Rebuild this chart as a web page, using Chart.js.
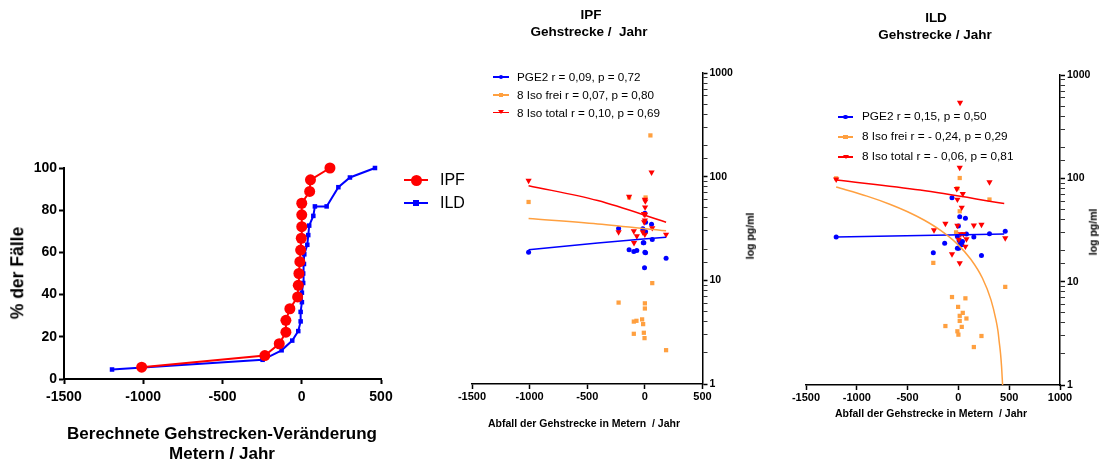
<!DOCTYPE html>
<html lang="de">
<head>
<meta charset="utf-8">
<title>Gehstrecke / Jahr</title>
<script src="https://cdn.jsdelivr.net/npm/chart.js@4.4.1/dist/chart.umd.min.js"></script>
<style>
  body { margin: 0; background: #fff; font-family: 'Liberation Sans', Arial, Helvetica, sans-serif; }
  #wrap { position: relative; width: 1106px; height: 463px; overflow: hidden; }
  canvas { position: absolute; left: 0; top: 0; }
  .lbl { position: absolute; white-space: pre; color: #000; line-height: 1; }
</style>
</head>
<body>
<div id="wrap">
  <canvas id="cumChart" width="1106" height="463"></canvas>
  <canvas id="ipfChart" width="1106" height="463"></canvas>
  <canvas id="ildChart" width="1106" height="463"></canvas>
</div>
<script>
// ── Panel 1: cumulative distribution (% der Fälle) ──
const cumXTicks = [-1500, -1000, -500, 0, 500];
const cumYTicks = [0, 20, 40, 60, 80, 100];
const ipfX = [-1010, -233, -142, -100, -100, -75, -26, -22, -18, -12, -7, -3, 0, 0, 0, 50, 55, 178];
const ipfY = [5.6, 11.1, 16.7, 22.2, 27.8, 33.3, 38.9, 44.4, 50.0, 55.6, 61.1, 66.7, 72.2, 77.8, 83.3, 88.9, 94.4, 100];
const ildX = [-1197, -247, -127, -60, -22, -7, -7, 1, 1, 9, 9, 14, 16, 35, 41, 47, 73, 83, 157, 231, 304, 462];
const ildY = [4.5, 9.1, 13.6, 18.2, 22.7, 27.3, 31.8, 36.4, 40.9, 45.5, 50.0, 54.5, 59.1, 63.6, 68.2, 72.7, 77.3, 81.8, 81.8, 90.9, 95.5, 100];
const cumLabels = ['IPF', 'ILD'];

// ── Panel 2: IPF ──
const ipfLegend = ['PGE2 r = 0,09, p = 0,72', '8 Iso frei r = 0,07, p = 0,80', '8 Iso total r = 0,10, p = 0,69'];
const ipfPgeX = [-1009, -228, -137, -96, -70, -18, -9, -14, 0, 6, 6, 0, 6, -3, 58, 64, 184];
const ipfPgeY = [18.7, 31.6, 19.7, 19.0, 19.4, 31.4, 23.0, 23.0, 44.4, 36.4, 29.4, 18.7, 18.5, 13.2, 34.8, 24.8, 16.3];
const ipfFreiX = [-1009, 48, -137, 6, 64, -228, 0, 0, -24, -73, -96, -15, -96, -9, -3, 184];
const ipfFreiY = [57, 250, 63, 63, 9.4, 6.1, 6.0, 5.35, 4.2, 4.07, 4.0, 3.78, 3.05, 3.12, 2.77, 2.12];
const ipfTotalX = [-1009, -137, 58, 0, 4, 2, -8, 0, 0, -6, -228, -96, -18, 0, -70, 64, 184, -94];
const ipfTotalY = [91.5, 64.3, 110, 60.1, 58, 50.7, 43.8, 43, 38, 36.5, 29.2, 29.8, 29.2, 27.7, 26.7, 32, 27.7, 23];
const ipfFitX = [-1009, -409, 184];
const ipfPgeFit = [19.7, 22.9, 26.1];
const ipfFreiFit = [39.5, 35.0, 30.1];
const ipfTotalFit = [81.9, 58.8, 36.4];

// ── Panel 3: ILD ──
const ildLegend = ['PGE2 r = 0,15, p = 0,50', '8 Iso frei r = - 0,24, p = 0,29', '8 Iso total r = - 0,06, p = 0,81'];
const ildPgeX = [-1203, -63, 13, 69, 0, -10, 79, 152, 306, 461, 7, 40, -135, 16, 33, -10, 3, -247, 227];
const ildPgeY = [27, 64.9, 42.4, 41.1, 34.6, 27.4, 28.9, 27, 29.1, 30.7, 25, 24.5, 23.6, 23.1, 22.8, 21.1, 21, 19.1, 17.9];
const ildFreiX = [-1203, 13, -10, 306, 13, -23, -247, 461, -63, 69, -3, 43, 13, 79, 13, -128, 33, -10, 0, 227, 152];
const ildFreiY = [100, 100.7, 80, 62.4, 48, 30, 15.2, 8.9, 7.1, 6.9, 5.7, 4.99, 4.67, 4.4, 4.17, 3.72, 3.65, 3.31, 3.07, 2.98, 2.33];
const ildTotalX = [-1203, 16, 13, -16, -10, 43, 306, 33, -128, -240, -10, 152, 227, 23, 49, 79, 3, 461, 69, -63, 13];
const ildTotalY = [97.7, 540, 127, 79, 62.4, 70.8, 92, 52.2, 36.5, 31.6, 34.9, 35.1, 35.7, 28.9, 28.9, 25.8, 25.5, 26.4, 21.9, 18.5, 15.1];
const ildFitX = [-1203, -376, 451];
const ildPgeFit = [27, 27.9, 28.9];
const ildTotalFit = [96.3, 77, 57];
// orange fit curve
const ildFreiCurveX = [-1203, -900, -669, -500, -339, -175, -10, 122, 237, 320, 369, 390, 402, 415, 425, 435];
const ildFreiCurveY = [82.4, 67.3, 55.9, 47.5, 39.5, 31.3, 23.1, 16.5, 10.8, 6.7, 4.3, 3.3, 2.6, 2.0, 1.5, 1.0];

const logTicks = [1, 10, 100, 1000];

const FONT = "'Liberation Sans', Arial, Helvetica, sans-serif";
const RED = '#FF0000', BLUE = '#0000FF', ORANGE = '#FFA040';
Chart.defaults.font.family = FONT;
Chart.defaults.color = '#000';

const wrap = document.getElementById('wrap');
const pts = (xs, ys) => xs.map((x, i) => ({ x: x, y: ys[i] }));
const isDecade = v => logTicks.includes(Math.round(v * 1000) / 1000);

function label(text, cx, cy, size, bold, rotate) {
  const d = document.createElement('div');
  d.className = 'lbl';
  d.style.left = cx + 'px';
  d.style.top = cy + 'px';
  d.style.fontSize = size + 'px';
  d.style.fontWeight = bold ? 'bold' : 'normal';
  d.style.transform = 'translate(-50%,-50%)' + (rotate ? ' rotate(-90deg)' : '');
  d.textContent = text;
  wrap.appendChild(d);
}

function legendRow(y, x1, x2, tx, color, marker, ms, lw, text, size) {
  const line = document.createElement('div');
  line.style.cssText = `position:absolute;left:${x1}px;top:${y - lw / 2}px;width:${x2 - x1}px;height:${lw}px;background:${color}`;
  wrap.appendChild(line);
  const m = document.createElement('div');
  const cx = (x1 + x2) / 2;
  if (marker === 'circle') {
    m.style.cssText = `position:absolute;left:${cx - ms / 2}px;top:${y - ms / 2}px;width:${ms}px;height:${ms}px;border-radius:50%;background:${color}`;
  } else if (marker === 'rect') {
    m.style.cssText = `position:absolute;left:${cx - ms / 2}px;top:${y - ms / 2}px;width:${ms}px;height:${ms}px;background:${color}`;
  } else {
    m.style.cssText = `position:absolute;left:${cx - ms / 2}px;top:${y - ms * 0.4}px;width:0;height:0;border-left:${ms / 2}px solid transparent;border-right:${ms / 2}px solid transparent;border-top:${ms * 0.8}px solid ${color}`;
  }
  wrap.appendChild(m);
  const t = document.createElement('div');
  t.className = 'lbl';
  t.style.cssText = `left:${tx}px;top:${y}px;transform:translateY(-50%);font-size:${size}px`;
  t.textContent = text;
  wrap.appendChild(t);
}

function axisStyle(width) {
  return {
    border: { color: '#000', width: width },
    grid: { drawOnChartArea: false, drawTicks: true, tickLength: 5, tickColor: '#000', tickWidth: width }
  };
}

function points(data, color, style, r, rot) {
  return { data, showLine: false, pointStyle: style, pointRadius: r, pointRotation: rot || 0,
    backgroundColor: color, borderColor: color, pointBorderWidth: 0, clip: false };
}
function fit(data, color) {
  return { data, showLine: true, pointRadius: 0, borderColor: color, borderWidth: 1.5,
    cubicInterpolationMode: 'monotone', clip: false };
}

const baseOpts = { responsive: false, animation: false, events: [],
  plugins: { legend: { display: false }, tooltip: { enabled: false } } };

// ── Panel 1 ──
new Chart(document.getElementById('cumChart'), {
  type: 'scatter',
  data: { datasets: [
    { label: cumLabels[0], data: pts(ipfX, ipfY), showLine: true, borderColor: RED, backgroundColor: RED,
      borderWidth: 2, pointRadius: 5.5, pointBorderWidth: 0, pointStyle: 'circle', clip: false, order: 0 },
    { label: cumLabels[1], data: pts(ildX, ildY), showLine: true, borderColor: BLUE, backgroundColor: BLUE,
      borderWidth: 2, pointRadius: 3.2, pointBorderWidth: 0, pointStyle: 'rect', clip: false, order: 1 }
  ] },
  options: { ...baseOpts,
    layout: { padding: { left: 24, top: 168, right: 725, bottom: 54 } },
    scales: {
      x: { type: 'linear', min: -1500, max: 500, ...axisStyle(2),
        afterBuildTicks: s => { s.ticks = cumXTicks.map(v => ({ value: v })); },
        ticks: { font: { size: 14, weight: 'bold' }, padding: 5, maxRotation: 0, callback: v => String(v) },
        afterFit: s => { s.height = 30; } },
      y: { type: 'linear', min: 0, max: 100, ...axisStyle(2),
        afterBuildTicks: s => { s.ticks = cumYTicks.map(v => ({ value: v })); },
        ticks: { font: { size: 14, weight: 'bold' }, padding: 2, callback: v => String(v) },
        afterFit: s => { s.width = 40; } }
    }
  }
});

// ── Panels 2 & 3 ──
function logPanel(id, pad, xMax, sets) {
  const xTicks = [];
  for (let v = -1500; v <= xMax; v += 500) xTicks.push(v);
  new Chart(document.getElementById(id), {
    type: 'scatter',
    data: { datasets: sets },
    options: { ...baseOpts,
      layout: { padding: pad },
      scales: {
        x: { type: 'linear', min: -1500, max: xMax, position: 'bottom', ...axisStyle(1.5),
          afterBuildTicks: s => { s.ticks = xTicks.map(v => ({ value: v })); },
          ticks: { font: { size: 11, weight: 'bold' }, padding: 1, maxRotation: 0, callback: v => String(v) },
          afterFit: s => { s.height = 30; } },
        y: { type: 'logarithmic', min: 1, max: 1000, position: 'right',
          border: { color: '#000', width: 1.5 },
          grid: { drawOnChartArea: false, drawTicks: true, tickLength: 5, tickColor: '#000',
            tickWidth: c => isDecade(c.tick.value) ? 1.5 : 0.8 },
          ticks: { font: { size: 10.5, weight: 'bold' }, padding: 2, autoSkip: false,
            callback: v => isDecade(v) ? String(Math.round(v)) : '' },
          afterFit: s => { s.width = 40; } }
      }
    }
  });
}

logPanel('ipfChart', { left: 472, top: 73, right: 363.5, bottom: 49 }, 500, [
  { ...fit(pts(ipfFitX, ipfTotalFit), RED), order: 0 },
  { ...fit(pts(ipfFitX, ipfFreiFit), ORANGE), order: 1 },
  { ...fit(pts(ipfFitX, ipfPgeFit), BLUE), order: 2 },
  { ...points(pts(ipfTotalX, ipfTotalY), RED, 'triangle', 3.6, 180), order: 3 },
  { ...points(pts(ipfPgeX, ipfPgeY), BLUE, 'circle', 2.5), order: 4 },
  { ...points(pts(ipfFreiX, ipfFreiY), ORANGE, 'rect', 3), order: 5 }
]);

logPanel('ildChart', { left: 806, top: 75, right: 6, bottom: 48 }, 1000, [
  { ...fit(pts(ildFitX, ildTotalFit), RED), order: 0 },
  { ...fit(pts(ildFreiCurveX, ildFreiCurveY), ORANGE), order: 1 },
  { ...fit(pts(ildFitX, ildPgeFit), BLUE), order: 2 },
  { ...points(pts(ildTotalX, ildTotalY), RED, 'triangle', 3.6, 180), order: 3 },
  { ...points(pts(ildPgeX, ildPgeY), BLUE, 'circle', 2.5), order: 4 },
  { ...points(pts(ildFreiX, ildFreiY), ORANGE, 'rect', 3), order: 5 }
]);

// ── Text: titles, axis titles, legends ──
label('% der Fälle', 18, 273, 17.5, true, true);
label('Berechnete Gehstrecken-Veränderung', 222, 433, 17, true);
label('Metern / Jahr', 222, 453, 17, true);
legendRow(180, 404, 428, 440, RED, 'circle', 11, 2, cumLabels[0], 16);
legendRow(203, 404, 428, 440, BLUE, 'rect', 6, 2, cumLabels[1], 16);

label('IPF', 591, 15, 13.5, true);
label('Gehstrecke /  Jahr', 589, 32, 13.5, true);
label('log pg/ml', 750, 236, 10.5, true, true);
label('Abfall der Gehstrecke in Metern  / Jahr', 584, 423, 10.5, true);
legendRow(77, 493, 509, 517, BLUE, 'circle', 4.5, 1.5, ipfLegend[0], 11.7);
legendRow(95, 493, 509, 517, ORANGE, 'rect', 4.5, 1.5, ipfLegend[1], 11.7);
legendRow(112.5, 493, 509, 517, RED, 'tri', 6, 1.5, ipfLegend[2], 11.7);

label('ILD', 936, 18, 13.5, true);
label('Gehstrecke / Jahr', 935, 35, 13.5, true);
label('log pg/ml', 1093, 232, 10.5, true, true);
label('Abfall der Gehstrecke in Metern  / Jahr', 931, 413, 10.5, true);
legendRow(117, 838, 853, 862, BLUE, 'circle', 4.5, 1.5, ildLegend[0], 11.8);
legendRow(137, 838, 853, 862, ORANGE, 'rect', 4.5, 1.5, ildLegend[1], 11.8);
legendRow(157, 838, 853, 862, RED, 'tri', 6, 1.5, ildLegend[2], 11.8);
</script>
</body>
</html>
